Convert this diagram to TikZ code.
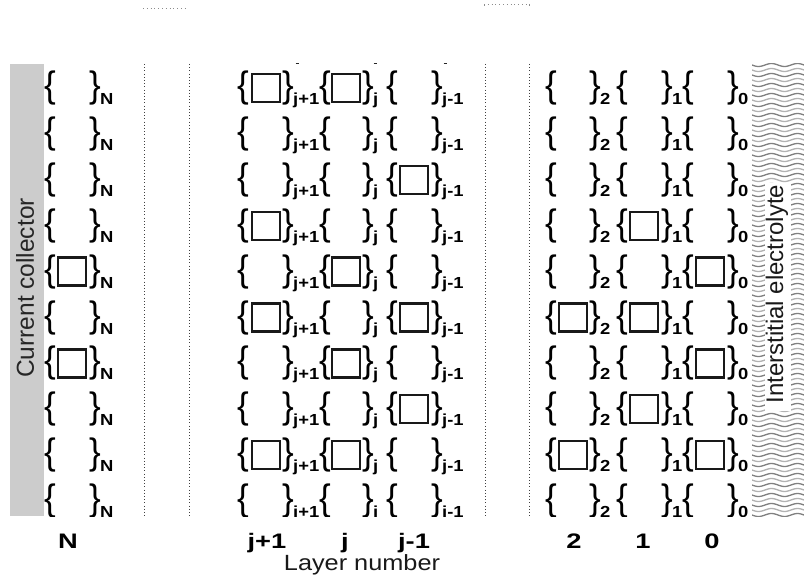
\documentclass[tikz,border=0pt]{standalone}
\usepackage{fontspec}
\setmainfont{Liberation Sans}
\begin{document}
\begin{tikzpicture}[x=1pt,y=-1pt,
  brace/.style={font=\fontsize{35}{35}\selectfont, inner sep=0pt, text=black, yscale=1.05},
  sub/.style={font=\fontsize{16}{16}\selectfont\bfseries, inner sep=0pt, anchor=base west, xscale=1.15},
  cellbox/.style={draw=black!90, line width=2.3pt, minimum width=28pt, minimum height=28pt, inner sep=0pt},
  dots/.style={line width=0.8pt, dash pattern=on 0.8pt off 2.4pt, black!75},
  tinydots/.style={line width=0.6pt, dash pattern=on 0.8pt off 3pt, black!45},
  axlabel/.style={font=\fontsize{21}{21}\selectfont\bfseries, anchor=base, inner sep=0pt, xscale=1.3},
  side/.style={font=\fontsize{24.5}{24.5}\selectfont, text=black!85, rotate=90, inner sep=0pt}]
\useasboundingbox (0,0) rectangle (804,586);

% current collector bar
\fill[black!20] (10,64) rectangle (44,516);
\node[side] (cc) at (25,288) {Current collector};

% interstitial electrolyte (wavy lines)
\begin{scope}
\clip (752,64) rectangle (804,516);
\foreach \k in {0,...,90} {
  \pgfmathsetmacro\yy{65+5*\k}
  \pgfmathtruncatemacro\col{mod(\k,2)==0 ? 50 : 30}
  \draw[line width=1.3pt, black!\col] plot[domain=0:52, samples=30, smooth]
     ({752+\x}, {\yy+1.5*sin(13.846*\x)});
}
\end{scope}
\fill[white] (765,183) rectangle (791,411);
\node[side, font=\fontsize{24}{24}\selectfont, text=black!90] (ie) at (777,294) {Interstitial electrolyte};

% top small marks
\draw[tinydots] (143,8) -- (188,8);
\draw[tinydots] (484,4) -- (529,4);
\draw[black!45, line width=0.5pt] (484,4) -- (484,6);
\draw[black!45, line width=0.5pt] (529,4) -- (529,6);
\foreach \mx in {297,375,445}
  \draw[black!85, line width=1pt] (\mx-1.5,63.5) -- (\mx+1.5,63.5);

\begin{scope}
\clip (0,60) rectangle (804,516);
% dotted separators
\foreach \dx in {144,189,485,529}
  \draw[dots] (\dx,64) -- (\dx,516);

% cells
\foreach \c/\l/\m/\rr/\s in {1/50/72/95/N, 2/243/266/288/j+1, 3/325/346/368/j, 4/392/414/437/j-1,
                              5/551/573/595/2, 6/622/644/667/1, 7/688/710/733/0}
 \foreach \r in {1,...,10} {
   \pgfmathsetmacro\y{88+45.9*(\r-1)}
   \node[brace] (lb-\r-\c) at (\l,\y) {\{};
   \node[brace] (rb-\r-\c) at (\rr,\y) {\}};
   \node[sub] (s-\r-\c) at (\rr+5,\y+16.5) {\s};
   \coordinate (cell-\r-\c) at (\m,\y);
 }

% filled cells
\foreach \r/\c in {1/2,1/3,3/4,4/2,4/6,5/1,5/3,5/7,6/2,6/4,6/5,6/6,7/1,7/3,7/7,8/4,8/6,9/2,9/3,9/5,9/7}
  \node[cellbox] (box-\r-\c) at (cell-\r-\c) {};
\end{scope}

% axis labels
\node[axlabel] (lN) at (68,548) {N};
\node[axlabel] (ljp) at (267,548) {j+1};
\node[axlabel] (lj) at (345,548) {j};
\node[axlabel] (ljm) at (414,548) {j-1};
\node[axlabel] (l2) at (574,548) {2};
\node[axlabel] (l1) at (643,548) {1};
\node[axlabel] (l0) at (712,548) {0};
\node[font=\fontsize{22}{22}\selectfont, anchor=base, inner sep=0pt, text=black!90, xscale=1.15] (ln) at (362,570) {Layer number};
\end{tikzpicture}
\end{document}
